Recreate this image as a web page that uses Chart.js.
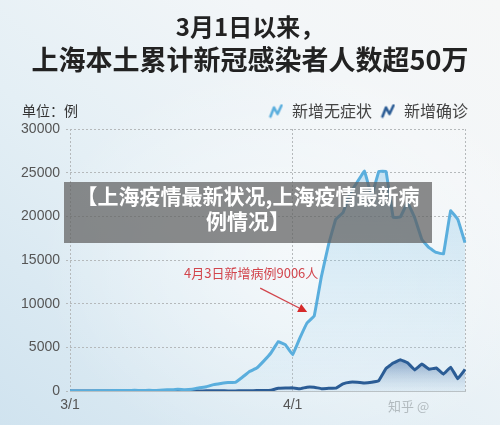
<!DOCTYPE html>
<html><head><meta charset="utf-8">
<script src="https://cdn.jsdelivr.net/npm/chart.js@4.4.0/dist/chart.umd.min.js"></script>
<style>
html,body{margin:0;padding:0;}
body{width:500px;height:425px;overflow:hidden;}
#wrap{position:relative;width:500px;height:425px;
 background:
  radial-gradient(ellipse 260px 200px at 300px 260px, rgba(255,255,255,0.55), rgba(255,255,255,0) 100%),
  linear-gradient(to top right, #d0e3ef 0%, #e4eff5 40%, #f3f6f8 75%, #f6f7f7 100%);}
canvas{position:absolute;left:0;top:0;}
#banner{position:absolute;left:64px;top:182px;width:368px;height:61px;background:rgba(95,95,95,0.72);
 color:#fff;font-family:"Noto Sans CJK SC",sans-serif;font-weight:bold;font-size:21px;text-align:center;
 line-height:25px;padding-top:1px;box-sizing:border-box;}
#wm{position:absolute;left:388px;top:396px;font-family:"Noto Sans CJK SC",sans-serif;font-size:13px;color:rgba(160,168,172,0.75);}
</style></head>
<body><div id="wrap"><canvas id="c" width="500" height="425"></canvas>
<div id="banner">【上海疫情最新状况,上海疫情最新病<br>例情况】</div>
<div id="wm">知乎 @</div></div>
<script>
const titleLine1 = '3月1日以来，';
const titleLine2 = '上海本土累计新冠感染者人数超50万';
const unitLabel = '单位：例';
const seriesNames = ['新增无症状', '新增确诊'];
const dates = ['3/1','3/2','3/3','3/4','3/5','3/6','3/7','3/8','3/9','3/10','3/11','3/12','3/13','3/14','3/15','3/16',
 '3/17','3/18','3/19','3/20','3/21','3/22','3/23','3/24','3/25','3/26','3/27','3/28','3/29','3/30','3/31',
 '4/1','4/2','4/3','4/4','4/5','4/6','4/7','4/8','4/9','4/10','4/11','4/12','4/13','4/14','4/15','4/16',
 '4/17','4/18','4/19','4/20','4/21','4/22','4/23','4/24','4/25'];
const shownTicks = ['3/1','4/1'];
const asymptomatic = [1,1,5,14,16,28,45,51,62,76,64,78,64,128,130,197,150,203,366,492,734,865,977,979,1580,2231,
 2631,3450,4381,5656,5298,4144,6051,7788,8581,13086,16766,19660,20398,22609,23937,25173,22348,25141,25146,
 19872,19923,21582,19831,17332,16407,15861,15698,20634,19657,16983];
const confirmed = [0,1,3,2,3,0,3,4,3,4,11,5,1,41,9,5,8,57,8,17,24,31,4,4,29,38,45,50,96,326,355,358,
 260,438,425,268,311,322,824,1015,1006,914,994,1189,2573,3200,3590,3238,2417,3084,2494,2634,1931,2736,1401,2472];
const annoDate = '4/4';
const annoText = '4月3日新增病例9006人';
const yTicks = {min:0, max:30000, step:5000};

const lightBlue = '#5aaedd', darkBlue = '#2b5c95';
function makeIcon(color){
  const c = document.createElement('canvas'); c.width = 15; c.height = 15;
  const g = c.getContext('2d');
  g.strokeStyle = color; g.lineWidth = 2.6; g.lineCap = 'round'; g.lineJoin = 'round';
  g.beginPath(); g.moveTo(2,13); g.lineTo(5.5,4); g.lineTo(9,10.5); g.lineTo(13,2); g.stroke();
  return c;
}
const icons = [makeIcon(lightBlue), makeIcon(darkBlue)];

Chart.defaults.font.family = '"Noto Sans CJK SC","Noto Sans",sans-serif';

const legendShift = {
  id: 'legendShift',
  afterLayout(chart){ const L = chart.legend; if (L) { L.right = 476; L.width = L.right - L.left; } }
};

const extras = {
  id: 'extras',
  afterDraw(chart){
    const ctx = chart.ctx;
    ctx.save();
    ctx.font = '14px "Noto Sans CJK SC"'; ctx.fillStyle = '#333'; ctx.textAlign = 'left'; ctx.textBaseline = 'middle';
    ctx.fillText(unitLabel, 22, 111);
    const idx = dates.indexOf(annoDate);
    const pt = chart.getDatasetMeta(0).data[idx];
    const tipX = pt.x - 7, tipY = pt.y - 4;
    const tailX = tipX - 47, tailY = tipY - 24;
    const ang = Math.atan2(tipY - tailY, tipX - tailX);
    const hl = 9, hw = 4.5;
    const bx = tipX - hl*Math.cos(ang), by = tipY - hl*Math.sin(ang);
    ctx.strokeStyle = '#d2454c'; ctx.lineWidth = 1.3;
    ctx.beginPath(); ctx.moveTo(tailX, tailY); ctx.lineTo(bx, by); ctx.stroke();
    ctx.fillStyle = '#d62a2a';
    ctx.beginPath(); ctx.moveTo(tipX, tipY);
    ctx.lineTo(bx + hw*Math.sin(ang), by - hw*Math.cos(ang));
    ctx.lineTo(bx - hw*Math.sin(ang), by + hw*Math.cos(ang));
    ctx.closePath(); ctx.fill();
    ctx.font = '13px "Noto Sans CJK SC"'; ctx.fillStyle = '#d2454c'; ctx.textAlign = 'center';
    ctx.fillText(annoText, tipX - 56, tipY - 39);
    ctx.restore();
  }
};

function vGrad(ctx, top, bottom, c1, c2){
  const g = ctx.createLinearGradient(0, top, 0, bottom);
  g.addColorStop(0, c1); g.addColorStop(1, c2); return g;
}

new Chart(document.getElementById('c'), {
  type: 'line',
  data: {
    labels: dates,
    datasets: [
      { label: seriesNames[0], data: asymptomatic, borderColor: lightBlue, borderWidth: 3, pointRadius: 0,
        tension: 0.05, fill: 'origin', order: 0, borderJoinStyle: 'round',
        backgroundColor: (c) => { const a = c.chart.chartArea; if (!a) return 'rgba(0,0,0,0)';
          return vGrad(c.chart.ctx, a.top, a.bottom, 'rgba(100,180,226,0.38)', 'rgba(180,220,242,0.12)'); } },
      { label: seriesNames[1], data: confirmed, borderColor: darkBlue, borderWidth: 3, pointRadius: 0,
        tension: 0.05, fill: 'origin', order: 1, borderJoinStyle: 'round',
        backgroundColor: (c) => { const a = c.chart.chartArea; if (!a) return 'rgba(0,0,0,0)';
          const y = c.chart.scales.y; const t = y.getPixelForValue(3800);
          return vGrad(c.chart.ctx, t, a.bottom, 'rgba(50,90,150,0.62)', 'rgba(200,218,235,0.2)'); } }
    ]
  },
  options: {
    responsive: false, animation: false, devicePixelRatio: 1,
    layout: { padding: { left: 0, right: 0, top: 0, bottom: 0 } },
    plugins: {
      filler: { drawTime: 'beforeDatasetsDraw' },
      title: { display: true, text: titleLine1, color: '#222', font: { size: 24, weight: 'bold' }, padding: { top: 12.6, bottom: 0 } },
      subtitle: { display: true, text: titleLine2, color: '#222', font: { size: 27, weight: 'bold' }, padding: { top: 2.4, bottom: 18.8 } },
      legend: { position: 'top', align: 'end',
        labels: { usePointStyle: true, color: '#444', font: { size: 16 }, padding: 8,
          sort: (a, b) => a.datasetIndex - b.datasetIndex,
          generateLabels: (chart) => Chart.defaults.plugins.legend.labels.generateLabels(chart).map(l => { l.pointStyle = icons[l.datasetIndex]; return l; }) } },
      tooltip: { enabled: false }
    },
    scales: {
      x: {
        grid: { color: (c) => (c.index === 0 || c.index === dates.indexOf('4/1') || c.index === dates.length - 1) ? '#b5b9bb' : 'rgba(0,0,0,0)',
          drawTicks: false, lineWidth: 1 },
        border: { display: true, color: '#b9c1c5', dash: [2, 2] },
        ticks: { autoSkip: false, maxRotation: 0, padding: 6, color: '#555', font: { size: 14, family: '"Liberation Sans"' },
          callback: (v, i) => shownTicks.includes(dates[i]) ? dates[i] : '' },
        afterFit: (s) => { s.height = 34; }
      },
      y: {
        min: yTicks.min, max: yTicks.max,
        ticks: { stepSize: yTicks.step, padding: 6, color: '#555', font: { size: 14, family: '"Liberation Sans"' },
          callback: (v) => String(v) },
        grid: { color: '#b5b9bb', tickLength: 4, tickColor: '#b5b9bb', tickBorderDash: [2, 2] },
        border: { display: false, dash: [2, 2] },
        afterFit: (s) => { s.width = 70; }
      },
      yR: { type: 'linear', position: 'right', display: true, grid: { display: false }, ticks: { display: false },
        border: { display: false }, afterFit: (s) => { s.width = 35; } }
    }
  },
  plugins: [legendShift, extras]
});
</script>
</body></html>
